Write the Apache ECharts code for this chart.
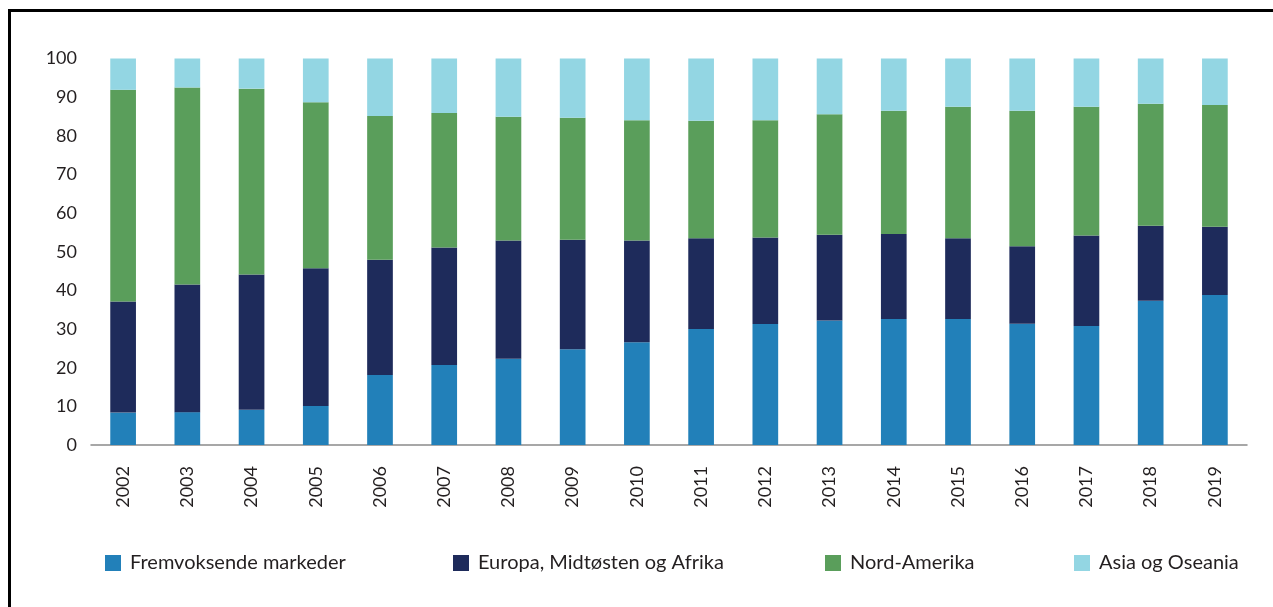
<!DOCTYPE html>
<html>
<head>
<meta charset="utf-8">
<script src="https://cdn.jsdelivr.net/npm/echarts@6/dist/echarts.min.js"></script>
<style>
  html, body { margin: 0; padding: 0; background: #fff; }
  #chart { width: 1273px; height: 607px; }
</style>
</head>
<body>
<div id="chart"></div>
<script>
var years = ['2002', '2003', '2004', '2005', '2006', '2007', '2008', '2009', '2010',
  '2011', '2012', '2013', '2014', '2015', '2016', '2017', '2018', '2019'];

// andeler i prosent, stablet nedenfra
var fremvoksende = [8.4, 8.5, 9.1, 10.1, 18.1, 20.7, 22.3, 24.8, 26.6, 30.0, 31.3, 32.2, 32.6, 32.6, 31.4, 30.8, 37.3, 38.8];
var europa = [28.7, 33.0, 35.0, 35.6, 29.8, 30.4, 30.6, 28.3, 26.3, 23.5, 22.4, 22.2, 22.0, 20.9, 20.0, 23.4, 19.4, 17.7];
var nordAmerika = [54.8, 51.0, 48.1, 43.0, 37.2, 34.8, 32.0, 31.6, 31.1, 30.4, 30.3, 31.2, 31.9, 34.0, 35.1, 33.3, 31.6, 31.5];
var asia = [8.1, 7.5, 7.8, 11.3, 14.9, 14.1, 15.1, 15.3, 16.0, 16.1, 16.0, 14.4, 13.5, 12.5, 13.5, 12.5, 11.7, 12.0];

var names = ['Fremvoksende markeder', 'Europa, Midtøsten og Afrika', 'Nord-Amerika', 'Asia og Oseania'];
var colors = ['#2280b9', '#1e2b5b', '#5a9e5b', '#93d6e3'];
var legendLeft = [100, 448, 820, 1069];

var fontFamily = 'Lato, "Open Sans", sans-serif';
var textColor = '#231f20';

function legendFor(i) {
  return {
    data: [names[i]],
    left: legendLeft[i],
    top: 548,
    itemWidth: 16,
    itemHeight: 16,
    itemGap: 0,
    icon: 'rect',
    textStyle: { color: textColor, fontSize: 20, fontFamily: fontFamily, padding: [0, 0, 0, 4] }
  };
}

function barSeries(i, data) {
  return {
    name: names[i],
    type: 'bar',
    stack: 'total',
    barWidth: '40%',
    itemStyle: { color: colors[i] },
    data: data
  };
}

var option = {
  backgroundColor: '#fff',
  animation: false,
  color: colors,
  grid: { left: 91, right: 26, top: 58.5, bottom: 162, containLabel: false },
  legend: [legendFor(0), legendFor(1), legendFor(2), legendFor(3)],
  xAxis: {
    type: 'category',
    data: years,
    axisLine: { show: true, lineStyle: { color: '#8a8a8a', width: 1.5 } },
    axisTick: { show: false },
    axisLabel: {
      rotate: 90,
      margin: 21,
      color: textColor,
      fontSize: 18,
      fontFamily: fontFamily
    }
  },
  yAxis: {
    type: 'value',
    min: 0,
    max: 100,
    interval: 10,
    axisLine: { show: false },
    axisTick: { show: false },
    splitLine: { show: false },
    axisLabel: {
      margin: 14,
      color: textColor,
      fontSize: 18,
      fontFamily: fontFamily
    }
  },
  graphic: [
    { type: 'line', shape: { x1: 9.5, y1: 10.5, x2: 9.5, y2: 607 }, style: { stroke: '#000', lineWidth: 3 } },
    { type: 'line', shape: { x1: 8, y1: 10.5, x2: 1273, y2: 10.5 }, style: { stroke: '#000', lineWidth: 3 } }
  ],
  series: [
    barSeries(0, fremvoksende),
    barSeries(1, europa),
    barSeries(2, nordAmerika),
    barSeries(3, asia)
  ]
};

var chart = echarts.init(document.getElementById('chart'));
chart.setOption(option);
</script>
</body>
</html>
